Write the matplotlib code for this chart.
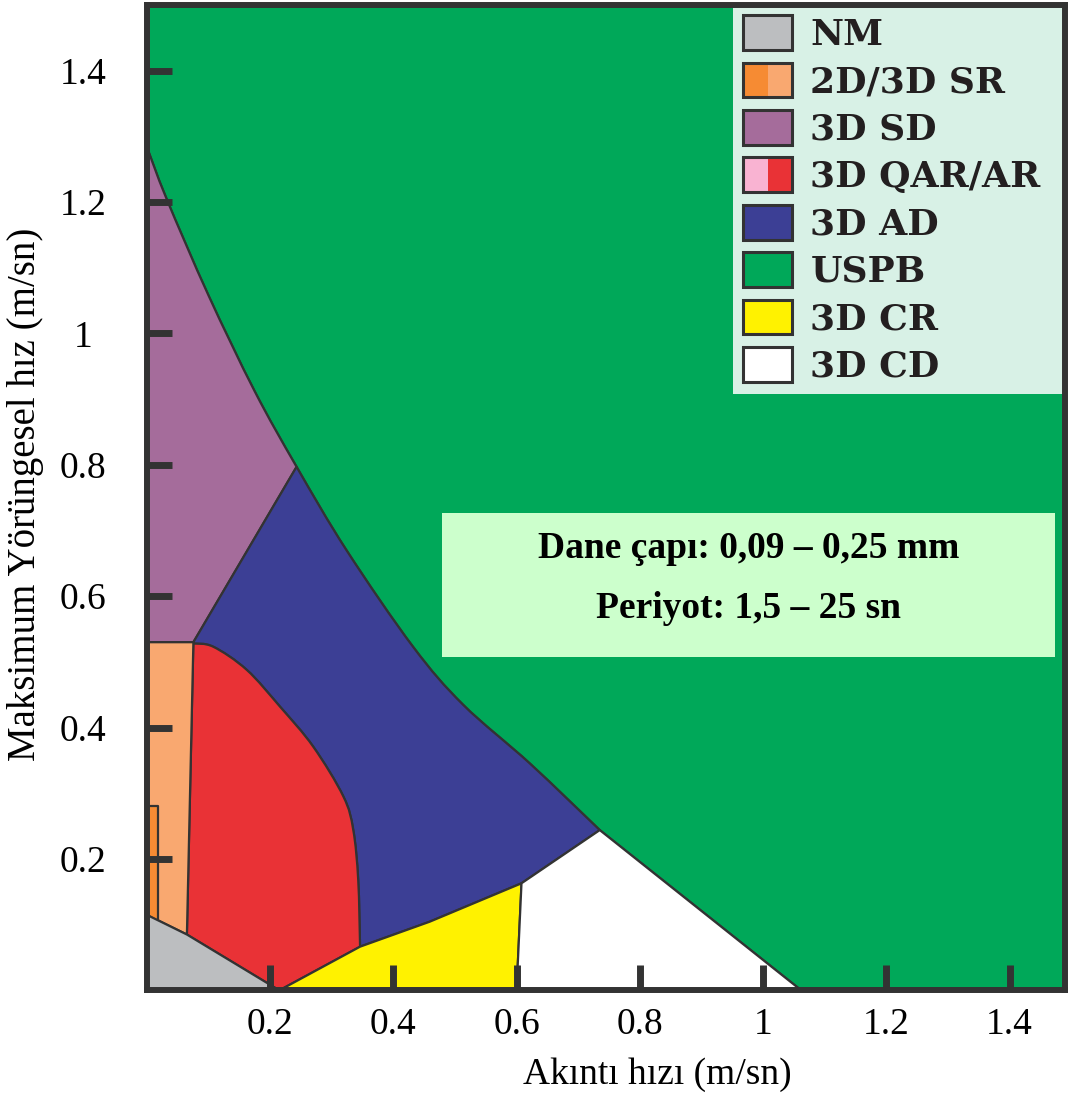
import matplotlib
matplotlib.use("Agg")
import numpy as np
import matplotlib.pyplot as plt
from matplotlib.patches import PathPatch, Rectangle
from matplotlib.path import Path
from matplotlib.legend_handler import HandlerBase

# ---------------- data ----------------
# upper boundary of the ripple/dune fields (USPB limit); curved part then straight to x-axis
uspb_x = [0.0, 0.032, 0.100, 0.175, 0.243, 0.324, 0.432, 0.513, 0.622, 0.735, 1.062]
uspb_y = [1.284, 1.205, 1.058, 0.912, 0.797, 0.670, 0.523, 0.435, 0.345, 0.244, 0.0]
# right boundary of the 3D AR field
ar_x = [0.0755, 0.108, 0.162, 0.216, 0.270, 0.319, 0.335, 0.343, 0.346]
ar_y = [0.528, 0.523, 0.488, 0.432, 0.371, 0.295, 0.244, 0.168, 0.0665]
# lower boundary of the 3D AD field (top of CR / CD)
ad_low_x = [0.215, 0.346, 0.459, 0.608, 0.735]
ad_low_y = [0.0, 0.0665, 0.1045, 0.163, 0.244]
# NM upper line
nm_x = [0.0, 0.065, 0.215]
nm_y = [0.115, 0.085, 0.0]
# SR strips
sr_light_x = [0.0, 0.0, 0.0755, 0.065]
sr_light_y = [0.115, 0.53, 0.53, 0.085]
sr_dark_x = [0.0, 0.0, 0.018, 0.018]
sr_dark_y = [0.115, 0.28, 0.28, 0.106]
# SD / AD split line
sd_x = [0.0, 0.0755, 0.243]
sd_y = [0.53, 0.53, 0.797]
# CR / CD split
cr_cd_x = [0.600, 0.608]
cr_cd_y = [0.0, 0.163]

legend_labels = ["NM", "2D/3D SR", "3D SD", "3D QAR/AR", "3D AD", "USPB", "3D CR", "3D CD"]
legend_colors = [("#bcbec0", "#bcbec0"), ("#f68b33", "#f9a870"), ("#a56c9b", "#a56c9b"),
                 ("#f9b3d2", "#e93236"), ("#3c3f95", "#3c3f95"), ("#00a859", "#00a859"),
                 ("#fff200", "#fff200"), ("#ffffff", "#ffffff")]

x_ticks = [0.2, 0.4, 0.6, 0.8, 1.0, 1.2, 1.4]
x_tick_labels = ["0.2", "0.4", "0.6", "0.8", "1", "1.2", "1.4"]
y_ticks = [0.2, 0.4, 0.6, 0.8, 1.0, 1.2, 1.4]
y_tick_labels = ["0.2", "0.4", "0.6", "0.8", "1", "1.2", "1.4"]

info_lines = ["Dane çapı: 0,09 – 0,25 mm", "Periyot: 1,5 – 25 sn"]

# ---------------- colours / style ----------------
C_NM, C_SRD, C_SRL, C_SD = "#bcbec0", "#f68b33", "#f9a870", "#a56c9b"
C_AR, C_AD, C_USPB, C_CR, C_CD = "#e93236", "#3c3f95", "#00a859", "#fff200", "#ffffff"
EDGE = "#333333"
LW = 1.6

fig = plt.figure(figsize=(10.75, 10.97), dpi=100)
ax = fig.add_axes([0.1366, 0.0972, 0.8541, 0.8982])
ax.set_xlim(0, 1.49)
ax.set_ylim(0, 1.5)


def bezier_segments(xs, ys):
    """Smooth (Catmull-Rom style) cubic segments through the read points."""
    P = np.column_stack([xs, ys]).astype(float)
    n = len(P)
    segs = []
    for i in range(n - 1):
        p0, p1 = P[i], P[i + 1]
        pm = P[i - 1] if i > 0 else P[i]
        pp = P[i + 2] if i + 2 < n else P[i + 1]
        segs.append((p0, p0 + (p1 - pm) / 6.0, p1 - (pp - p0) / 6.0, p1))
    return segs


def reverse_segments(segs):
    return [(s[3], s[2], s[1], s[0]) for s in segs[::-1]]


def region(pieces, color, z=1):
    verts, codes = [], []
    for kind, data in pieces:
        if kind == "L":
            for k, pt in enumerate(data):
                if not verts:
                    verts.append(pt); codes.append(Path.MOVETO)
                elif k > 0:
                    verts.append(pt); codes.append(Path.LINETO)
        else:
            for s in data:
                if not verts:
                    verts.append(tuple(s[0])); codes.append(Path.MOVETO)
                verts += [tuple(s[1]), tuple(s[2]), tuple(s[3])]
                codes += [Path.CURVE4] * 3
    verts.append(verts[0]); codes.append(Path.CLOSEPOLY)
    ax.add_patch(PathPatch(Path(verts, codes), facecolor=color, edgecolor=EDGE,
                           linewidth=LW, zorder=z, joinstyle="round"))


U = bezier_segments(uspb_x[:10], uspb_y[:10])
A = bezier_segments(ar_x, ar_y)
pts = lambda xs, ys: list(zip(xs, ys))

# USPB (green)
region([("B", U),
        ("L", pts(uspb_x[9:], uspb_y[9:]) + [(1.6, 0.0), (1.6, 1.6), (0.0, 1.6), (uspb_x[0], uspb_y[0])])],
       C_USPB)
# 3D SD (purple)
region([("L", pts(sd_x, sd_y)), ("B", reverse_segments(U[:4])),
        ("L", [(uspb_x[0], uspb_y[0]), (sd_x[0], sd_y[0])])], C_SD)
# 3D AD (blue)
region([("L", pts(sd_x[1:], sd_y[1:])), ("B", U[4:]),
        ("L", pts(ad_low_x[::-1][:-1], ad_low_y[::-1][:-1])),
        ("B", reverse_segments(A)),
        ("L", [(ar_x[0], ar_y[0]), (sd_x[1], sd_y[1])])], C_AD)
# 3D AR (red)
region([("L", [(nm_x[2], nm_y[2]), (nm_x[1], nm_y[1]), (ar_x[0], ar_y[0])]), ("B", A),
        ("L", [(ar_x[-1], ar_y[-1]), (nm_x[2], nm_y[2])])], C_AR)
# 2D/3D SR strips
region([("L", pts(sr_light_x, sr_light_y))], C_SRL)
region([("L", pts(sr_dark_x, sr_dark_y))], C_SRD)
# NM (grey)
region([("L", [(0.0, 0.0)] + pts(nm_x, nm_y))], C_NM)
# 3D CR (yellow)
region([("L", pts(ad_low_x[:4], ad_low_y[:4]) + [(cr_cd_x[0], cr_cd_y[0])])], C_CR)
# 3D CD (white)
region([("L", pts(cr_cd_x, cr_cd_y) + [(ad_low_x[4], ad_low_y[4]), (uspb_x[-1], uspb_y[-1])])], C_CD)

# info box
ax.add_patch(Rectangle((0.479, 0.507), 0.994, 0.220, facecolor="#ccffcc",
                       edgecolor="none", zorder=3))
ax.text(0.976, 0.673, info_lines[0], ha="center", va="center", zorder=4,
        fontsize=27, fontweight="bold", family="Liberation Serif")
ax.text(0.976, 0.582, info_lines[1], ha="center", va="center", zorder=4,
        fontsize=27, fontweight="bold", family="Liberation Serif")


# legend with (split) swatches
class Swatch:
    def __init__(self, colors):
        self.colors = colors


class SwatchHandler(HandlerBase):
    def create_artists(self, legend, orig_handle, xdescent, ydescent, width,
                       height, fontsize, trans):
        c1, c2 = orig_handle.colors
        x0, y0 = -xdescent, -ydescent
        r1 = Rectangle((x0, y0), width / 2, height, facecolor=c1,
                       edgecolor="none", transform=trans)
        r2 = Rectangle((x0 + width / 2, y0), width / 2, height, facecolor=c2,
                       edgecolor="none", transform=trans)
        r3 = Rectangle((x0, y0), width, height, facecolor="none",
                       edgecolor=EDGE, linewidth=2.2, transform=trans)
        return [r1, r2, r3]


handles = [Swatch(c) for c in legend_colors]
leg = ax.legend(handles, legend_labels, handler_map={Swatch: SwatchHandler()},
                loc="upper left", bbox_to_anchor=(0.6384, 0.0, 0.3616, 1.0),
                mode="expand", borderaxespad=0, frameon=True, fancybox=False,
                framealpha=1, facecolor="#d8f1e6", edgecolor="none",
                prop={"family": "DejaVu Serif", "weight": "bold", "size": 26},
                handlelength=1.36, handleheight=1.1, handletextpad=0.5,
                labelspacing=0.3, borderpad=0.28)
leg.set_zorder(2)
for t in leg.get_texts():
    t.set_color("#231f20")

# axes styling
for s in ax.spines.values():
    s.set_linewidth(4.3)
    s.set_color(EDGE)
    s.set_zorder(6)

ax.set_xticks(x_ticks)
ax.set_xticklabels(x_tick_labels)
ax.set_yticks(y_ticks)
ax.set_yticklabels(y_tick_labels)
ax.tick_params(direction="in", length=18, width=5, color=EDGE, labelsize=27,
               zorder=7)
ax.tick_params(axis="x", pad=12)
ax.tick_params(axis="y", pad=46)
for lbl in ax.get_xticklabels() + ax.get_yticklabels():
    lbl.set_family("Liberation Serif")
for lbl in ax.get_yticklabels():
    lbl.set_horizontalalignment("center")

ax.set_xlabel("Akıntı hızı (m/sn)", family="Liberation Serif", fontsize=27)
ax.xaxis.set_label_coords(0.556, -0.068)
ax.set_ylabel("Maksimum Yörüngesel hız (m/sn)", family="Liberation Serif",
              fontsize=28)
ax.yaxis.set_label_coords(-0.112, 0.503)

fig.savefig("out.png", dpi=100)
